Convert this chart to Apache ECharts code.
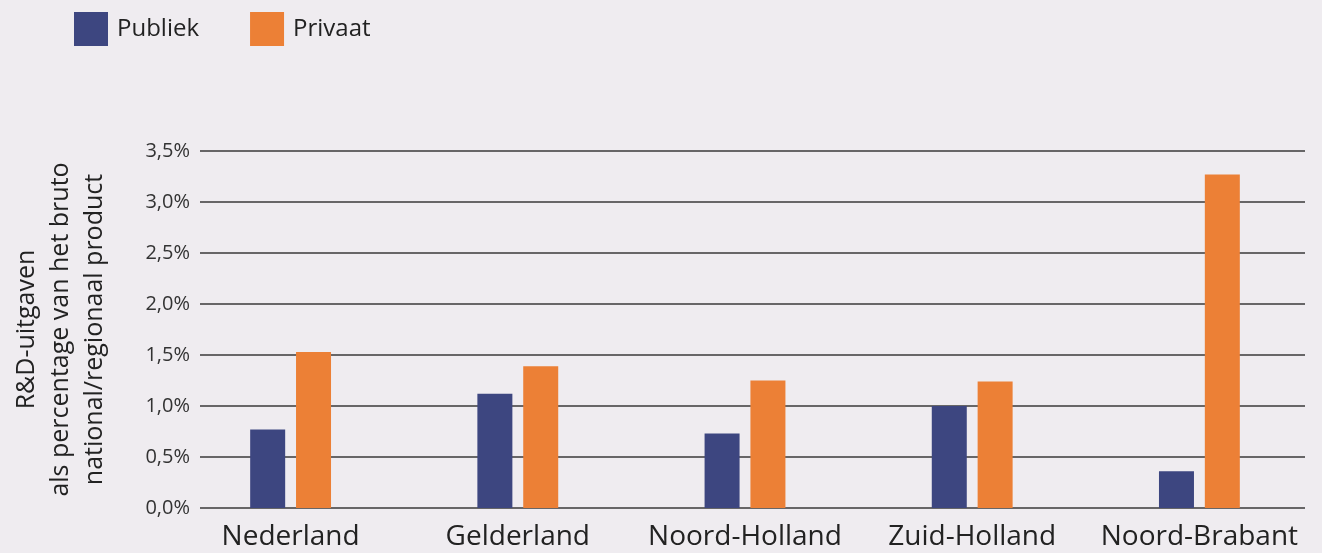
<!DOCTYPE html>
<html lang="nl">
<head>
  <meta charset="UTF-8" />
  <title>R&amp;D-uitgaven</title>
  <style>
    html, body { margin: 0; padding: 0; background: #efecf0; }
    #chart { width: 1322px; height: 553px; }
  </style>
</head>
<body>
  <div id="chart"></div>
  <script src="https://cdn.jsdelivr.net/npm/echarts@6/dist/echarts.min.js"></script>
  <script>
    // data
    var regios = ['Nederland', 'Gelderland', 'Noord-Holland', 'Zuid-Holland', 'Noord-Brabant'];
    var publiek = [0.77, 1.12, 0.73, 1.00, 0.36];
    var privaat = [1.53, 1.39, 1.25, 1.24, 3.27];
    var yTicks = [0, 0.5, 1, 1.5, 2, 2.5, 3, 3.5];

    var font = '"Open Sans", "Noto Sans", sans-serif';
    var myChart = echarts.init(document.getElementById('chart'));

    var option = {
      backgroundColor: '#efecf0',
      textStyle: { fontFamily: font },
      legend: {
        left: 74, top: 12, padding: 0,
        itemWidth: 34, itemHeight: 34,
        itemGap: 51,
        icon: 'rect',
        textStyle: { fontSize: 24, color: '#222', fontFamily: font, padding: [0, 0, 0, 4] },
        data: ['Publiek', 'Privaat']
      },
      grid: [
        // grid 0: y axis with gridlines
        { left: 200, right: 17, top: 151, bottom: 45 },
        // grid 1: bars
        { left: 177, right: 9, top: 151, bottom: 45 }
      ],
      xAxis: [
        { gridIndex: 0, type: 'category', data: regios, show: false },
        {
          gridIndex: 1, type: 'category', data: regios,
          axisLine: { show: false }, axisTick: { show: false },
          axisLabel: { fontSize: 28, color: '#222', margin: 15, fontFamily: font, interval: 0 }
        }
      ],
      yAxis: [
        {
          gridIndex: 0, type: 'value', min: 0, max: 3.5, interval: 0.5,
          axisLine: { show: false }, axisTick: { show: false },
          splitLine: { lineStyle: { color: '#3a3a3a', width: 1.5 } },
          axisLabel: {
            fontSize: 20, color: '#333', margin: 10, fontFamily: font,
            formatter: function (v) { return v.toFixed(1).replace('.', ',') + '%'; }
          },
          name: 'R&D-uitgaven\nals percentage van het bruto\nnational/regionaal product',
          nameLocation: 'middle',
          nameRotate: 90,
          nameGap: 88,
          nameTextStyle: { fontSize: 25, color: '#222', lineHeight: 34, fontFamily: font }
        },
        { gridIndex: 1, type: 'value', min: 0, max: 3.5, interval: 0.5, show: false, splitLine: { show: false } }
      ],
      series: [
        {
          name: 'Publiek', type: 'bar', xAxisIndex: 1, yAxisIndex: 1,
          data: publiek, barWidth: 35, barGap: '31%',
          itemStyle: { color: '#3d4680' }
        },
        {
          name: 'Privaat', type: 'bar', xAxisIndex: 1, yAxisIndex: 1,
          data: privaat, barWidth: 35,
          itemStyle: { color: '#ec8036' }
        }
      ]
    };
    myChart.setOption(option);
  </script>
</body>
</html>
